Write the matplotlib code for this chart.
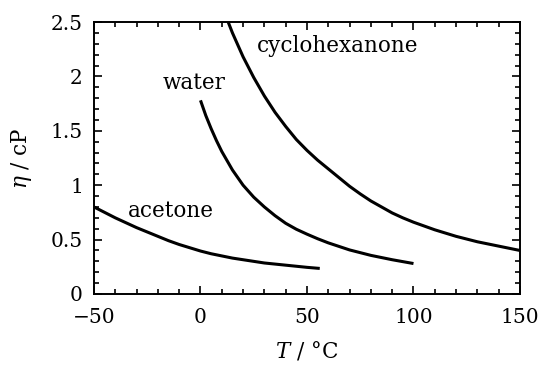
import matplotlib
matplotlib.use("Agg")
import matplotlib.pyplot as plt
from matplotlib.ticker import MultipleLocator

plt.rcParams['font.family'] = ['DejaVu Serif']
plt.rcParams['mathtext.fontset'] = 'dejavuserif'

acetone_T = [-50, -45, -40, -35, -30, -25, -20, -15, -10, -5, 0, 5, 10, 15, 20, 25, 30, 40, 50, 56]
acetone_eta = [0.80, 0.75, 0.70, 0.655, 0.61, 0.57, 0.53, 0.49, 0.455, 0.425, 0.395, 0.37,
               0.35, 0.33, 0.315, 0.30, 0.285, 0.265, 0.245, 0.235]

water_T = [0, 2.5, 5, 7.5, 10, 15, 20, 25, 30, 35, 40, 45, 50, 55, 60, 70, 80, 90, 100]
water_eta = [1.78, 1.64, 1.52, 1.41, 1.31, 1.14, 1.00, 0.89, 0.80, 0.72, 0.65, 0.595, 0.55,
             0.508, 0.47, 0.405, 0.355, 0.315, 0.28]

cyclo_T = [13, 15, 20, 25, 30, 35, 40, 45, 50, 55, 60, 65, 70, 75, 80, 85, 90, 95, 100,
           110, 120, 130, 140, 150]
cyclo_eta = [2.5, 2.40, 2.18, 1.99, 1.82, 1.67, 1.54, 1.42, 1.32, 1.23, 1.15, 1.07, 0.99,
             0.92, 0.855, 0.80, 0.745, 0.70, 0.66, 0.59, 0.53, 0.48, 0.44, 0.40]

labels = ["acetone", "water", "cyclohexanone"]
label_T = [-13.8, -3, 64.6]
label_eta = [0.76, 1.94, 2.28]

fig = plt.figure(figsize=(5.38, 3.68), dpi=100)
ax = fig.add_axes([0.1747, 0.2011, 0.9665 - 0.1747, 0.9402 - 0.2011])

for T, e in [(acetone_T, acetone_eta), (water_T, water_eta), (cyclo_T, cyclo_eta)]:
    ax.plot(T, e, color='black', lw=2.2, solid_capstyle='butt', solid_joinstyle='round')

for lab, x, y in zip(labels, label_T, label_eta):
    ax.text(x, y, lab, ha='center', va='center', fontsize=15.5)

ax.set_xlim(-50, 150)
ax.set_ylim(0, 2.5)
ax.xaxis.set_major_locator(MultipleLocator(50))
ax.xaxis.set_minor_locator(MultipleLocator(10))
ax.yaxis.set_major_locator(MultipleLocator(0.5))
ax.yaxis.set_minor_locator(MultipleLocator(0.1))
ax.set_xticks([-50, 0, 50, 100, 150])
ax.set_xticklabels(['\u221250', '0', '50', '100', '150'])
ax.set_yticks([0, 0.5, 1, 1.5, 2, 2.5])
ax.set_yticklabels(['0', '0.5', '1', '1.5', '2', '2.5'])
ax.tick_params(which='both', direction='in', top=True, right=True, labelsize=14.5, width=1.2)
ax.tick_params(which='major', length=6)
ax.tick_params(axis='x', which='major', pad=10)
ax.tick_params(axis='y', which='major', pad=8)
ax.tick_params(which='minor', length=3.5)
for s in ax.spines.values():
    s.set_linewidth(1.4)

ax.set_xlabel(r'$T$ / °C', fontsize=15.5, labelpad=9)
ax.set_ylabel(r'$\eta$ / cP', fontsize=15.5, labelpad=12)

fig.savefig('out.png', dpi=100)
